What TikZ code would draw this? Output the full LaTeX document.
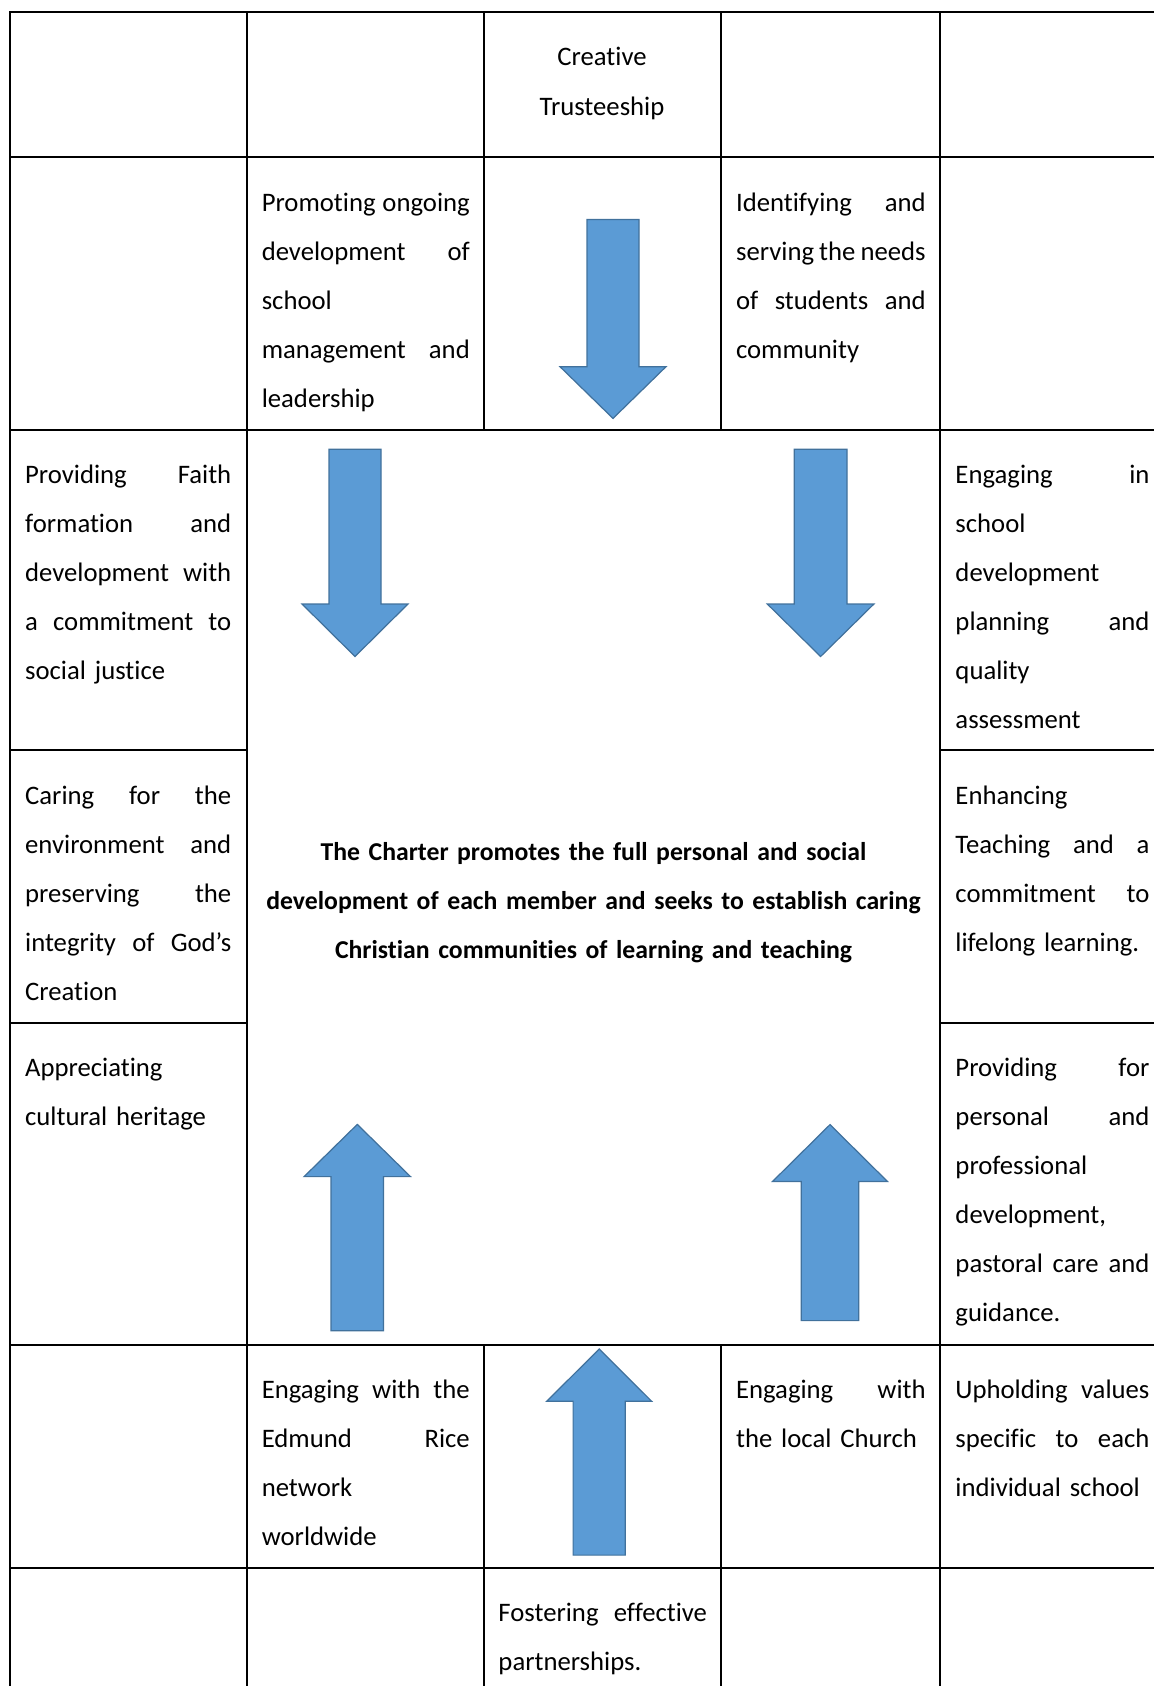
\documentclass[tikz,border=0pt]{standalone}
\usepackage{fontspec}
\setmainfont{Carlito}[Ligatures=NoCommon]
\definecolor{arrowfill}{HTML}{5B9BD5}
\definecolor{arrowedge}{HTML}{41719C}
% block arrow: centre x, shaft end y, head base y, tip y, half shaft, half head
\newcommand{\blockarr}[6]{%
  \draw[blockarrow] ({#1-#5},#2) -- ({#1-#5},#3) -- ({#1-#6},#3) -- (#1,#4)
    -- ({#1+#6},#3) -- ({#1+#5},#3) -- ({#1+#5},#2) -- cycle;}

\begin{document}
\begin{tikzpicture}[x=0.412pt,y=-0.412pt,
    tabline/.style={line width=0.8pt,line cap=rect},
    blockarrow/.style={fill=arrowfill,draw=arrowedge,line width=0.5pt},
    cell/.style={anchor=base west,inner sep=0pt,align=left,
      font=\fontsize{11}{20.2}\selectfont}]
    \useasboundingbox (0,0) rectangle (1154,1686);
    % table rules
    \foreach \y in {12.3,157.3,430,1345,1568}
        \draw[tabline] (10.3,\y) -- (1154,\y);
    \foreach \y in {750.4,1022.8} {
        \draw[tabline] (10.3,\y) -- (247,\y);
        \draw[tabline] (939.8,\y) -- (1154,\y);
    }
    \foreach \x in {10.3,247,939.8}
        \draw[tabline] (\x,12.3) -- (\x,1686);
    \foreach \x in {484,720.6} {
        \draw[tabline] (\x,12.3) -- (\x,430);
        \draw[tabline] (\x,1345) -- (\x,1686);
    }
    % cells
    \node[cell,anchor=base,align=center,text width=90pt] (t13) at (602,66) {Creative\\Trusteeship};
    \node[cell,text width=85.7pt] (t22) at (261.3,211)
        {Promoting\hfill ongoing\\development\hfill of\\school\\management\hfill and\\leadership};
    \node[cell,text width=78.1pt] (t24) at (735.6,211)
        {Identifying\hfill and\\serving\hfill the\hfill needs\\of\hfill students\hfill and\\community};
    \node[cell,text width=84.9pt] (t31) at (24.7,483.7)
        {Providing\hfill Faith\\formation\hfill and\\development\hfill with\\a\hfill commitment\hfill to\\social justice};
    \node[cell,text width=79.9pt] (t35) at (955,483.7)
        {Engaging\hfill in\\school\\development\\planning\hfill and\\quality\\assessment};
    \node[cell,text width=84.9pt] (t41) at (24.7,804)
        {Caring\hfill for\hfill the\\environment\hfill and\\preserving\hfill the\\integrity\hfill of\hfill God’s\\Creation};
    \node[cell,text width=79.9pt] (t45) at (955,804)
        {Enhancing\\Teaching\hfill and\hfill a\\commitment\hfill to\\lifelong learning.};
    \node[cell,text width=84.9pt] (t51) at (24.7,1076.5)
        {Appreciating\\cultural heritage};
    \node[cell,text width=79.9pt] (t55) at (955,1076.5)
        {Providing\hfill for\\personal\hfill and\\professional\\development,\\pastoral\hfill care\hfill and\\guidance.};
    \node[cell,text width=85.7pt] (t72) at (261.3,1398.7)
        {Engaging\hfill with\hfill the\\Edmund\hfill Rice\\network\\worldwide};
    \node[cell,text width=78.1pt] (t74) at (735.6,1398.7)
        {Engaging\hfill with\\the local Church};
    \node[cell,text width=79.9pt] (t75) at (955,1398.7)
        {Upholding\hfill values\\specific\hfill to\hfill each\\individual school};
    \node[cell,text width=85.9pt] (t83) at (498,1621.7)
        {Fostering\hfill effective\\partnerships.};
    \node[cell,anchor=base,align=center,text width=290pt,font=\fontsize{10.6}{20.2}\selectfont\bfseries]
        (charter) at (593.5,860.8)
        {The Charter promotes the full personal and social\\development of each member and seeks to establish caring\\Christian communities of learning and teaching};
    % arrows
    \blockarr{613}{219.4}{366.7}{418.4}{26}{53}
    \blockarr{355}{449.3}{604}{656.5}{26}{53}
    \blockarr{820.6}{449.3}{604}{656.5}{26.4}{53.3}
    \blockarr{357.3}{1330.7}{1176.6}{1124.4}{26.2}{53.2}
    \blockarr{830}{1320.6}{1181.4}{1124.6}{28.7}{57.4}
    \blockarr{599.2}{1555.1}{1401.3}{1349}{26.1}{52.5}
\end{tikzpicture}
\end{document}
